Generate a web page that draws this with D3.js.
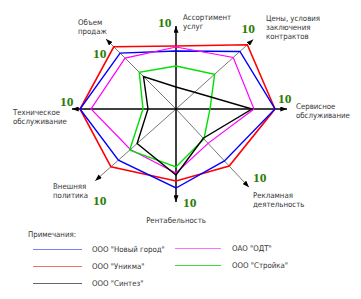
<!DOCTYPE html>
<html>
<head>
<meta charset="utf-8">
<script src="https://cdn.jsdelivr.net/npm/d3@7"></script>
<style>
  body { margin: 0; background: #fff; }
  svg text { font-family: "DejaVu Sans Condensed", "DejaVu Sans", sans-serif; }
</style>
</head>
<body>
<div id="chart"></div>
<script>
// axes, clockwise from the top
const axisNames = [
    ["Ассортимент", "услуг"],
    ["Цены, условия", "заключения", "контрактов"],
    ["Сервисное", "обслуживание"],
    ["Рекламная", "деятельность"],
    ["Рентабельность"],
    ["Внешняя", "политика"],
    ["Техническое", "обслуживание"],
    ["Объем", "продаж"]
];
const maxLabel = "10";

// series values (0..10)
const novyGorod = [5.8, 8.6, 9.9, 7.1, 7.9, 7.7, 9.6, 7.9];
const unikma    = [6.3, 9.6, 9.9, 7.8, 7.2, 8.7, 9.6, 8.8];
const sintez    = [2.2, 2.5, 7.6, 4.0, 6.6, 5.2, 2.8, 4.6];
const odt       = [6.2, 7.7, 7.8, 4.7, 6.4, 6.1, 8.5, 7.2];
const stroika   = [4.3, 5.2, 3.4, 4.1, 5.8, 6.2, 3.3, 5.2];

const seriesNames = ['ООО  "Новый город"', 'ООО "Уникма"', 'ООО "Синтез"', 'ОАО "ОДТ"', 'ООО  "Стройка"'];

// ---- layout ----
const width = 361, height = 299;
const cx = 176, cy = 109;
const angles = [-90, -42, 0, 47, 90, 138.4, 180, 225];   // degrees
const axisLen = [83, 104, 111, 107, 93, 108, 104, 99];
const labelPos = [[183, 19.5], [266, 21], [296, 109], [253, 198], [176, 222.5], [53, 189], [13, 114.5], [78, 24.5]];
const tenPos = [[158, 27], [241.5, 33], [278, 103], [253, 181.5], [183, 206.5], [93, 205], [60, 106], [93, 58]];
const fs = 7.8;

const svg = d3.select("#chart").append("svg")
    .attr("width", width)
    .attr("height", height);

const r = d3.scaleLinear().domain([0, 10]).range([0, 100]);

function pt(i, v) {
    const a = angles[i] * Math.PI / 180;
    return [cx + Math.cos(a) * v, cy + Math.sin(a) * v];
}

svg.append("defs").append("marker")
    .attr("id", "arr")
    .attr("viewBox", "0 0 8 6")
    .attr("refX", 8).attr("refY", 3)
    .attr("markerWidth", 7).attr("markerHeight", 5)
    .attr("markerUnits", "userSpaceOnUse")
    .attr("orient", "auto")
    .append("path").attr("d", "M0,0L8,3L0,6Z").attr("fill", "#000");

// diagonal axes (gray)
svg.selectAll("line.diag")
    .data(axisNames.map((d, i) => i).filter(i => i % 2 == 1))
    .enter().append("line")
    .attr("class", "diag")
    .attr("x1", cx).attr("y1", cy)
    .attr("x2", i => pt(i, axisLen[i])[0])
    .attr("y2", i => pt(i, axisLen[i])[1])
    .attr("stroke", "#555")
    .attr("stroke-width", 0.8)
    .attr("marker-end", "url(#arr)");

// main axes (black)
svg.selectAll("line.main")
    .data([0, 2, 4, 6])
    .enter().append("line")
    .attr("class", "main")
    .attr("x1", cx).attr("y1", cy)
    .attr("x2", i => pt(i, axisLen[i])[0])
    .attr("y2", i => pt(i, axisLen[i])[1])
    .attr("stroke", "#000")
    .attr("stroke-width", 1.5)
    .attr("marker-end", "url(#arr)");

// series polygons
const series = [
    { name: seriesNames[1], values: unikma, color: "#ff0000", w: 1.6 },
    { name: seriesNames[0], values: novyGorod, color: "#0000ff", w: 1.4 },
    { name: seriesNames[3], values: odt, color: "#ff00ff", w: 1.2 },
    { name: seriesNames[4], values: stroika, color: "#00e000", w: 1.4 },
    { name: seriesNames[2], values: sintez, color: "#000000", w: 1.4 }
];

const line = d3.line().curve(d3.curveLinearClosed);

svg.selectAll("path.series")
    .data(series)
    .enter().append("path")
    .attr("class", "series")
    .attr("d", s => line(s.values.map((v, i) => pt(i, r(v)))))
    .attr("fill", "none")
    .attr("stroke", s => s.color)
    .attr("stroke-width", s => s.w)
    .attr("stroke-linejoin", "miter");

// axis labels
axisNames.forEach(function (lines, i) {
    const t = svg.append("text")
        .attr("x", labelPos[i][0])
        .attr("y", labelPos[i][1])
        .attr("font-size", fs)
        .attr("fill", "#333")
        .attr("text-anchor", i == 4 ? "middle" : "start");
    lines.forEach(function (s, k) {
        t.append("tspan")
            .attr("x", labelPos[i][0])
            .attr("dy", k == 0 ? 0 : 9)
            .text(s);
    });
});

// "10" marks
svg.selectAll("text.ten")
    .data(tenPos)
    .enter().append("text")
    .attr("class", "ten")
    .attr("x", d => d[0]).attr("y", d => d[1])
    .style("font-family", '"Liberation Serif", serif')
    .attr("font-weight", "bold")
    .attr("font-size", 13.5)
    .attr("fill", "#2f7d08")
    .text(maxLabel);

// legend
svg.append("text")
    .attr("x", 28).attr("y", 237)
    .attr("font-size", fs)
    .attr("fill", "#333")
    .text("Примечания:");

const legendItems = [
    { name: seriesNames[0], color: "#8080ff", col: 0, row: 0 },
    { name: seriesNames[1], color: "#f07070", col: 0, row: 1 },
    { name: seriesNames[2], color: "#666", col: 0, row: 2 },
    { name: seriesNames[3], color: "#ff70ff", col: 1, row: 0 },
    { name: seriesNames[4], color: "#40dd40", col: 1, row: 1 }
];
const colX = [33, 175], rowY = [249, 266, 283];

const lg = svg.selectAll("g.leg")
    .data(legendItems)
    .enter().append("g")
    .attr("class", "leg")
    .attr("transform", d => "translate(" + colX[d.col] + "," + (rowY[d.row] - d.col) + ")");

lg.append("line")
    .attr("x1", 0).attr("x2", d => d.col == 0 ? 49 : 46)
    .attr("y1", 0.5).attr("y2", 0.5)
    .attr("stroke", d => d.color)
    .attr("stroke-width", 1);

lg.append("text")
    .attr("x", d => d.col == 0 ? 59 : 57)
    .attr("y", 3)
    .attr("font-size", fs)
    .attr("fill", "#333")
    .text(d => d.name);
</script>
</body>
</html>
